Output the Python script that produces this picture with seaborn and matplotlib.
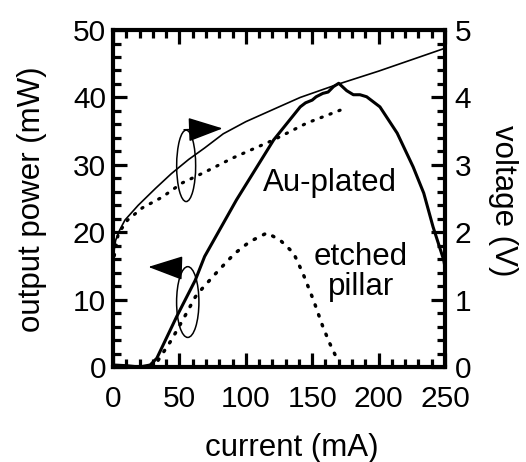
import numpy as np
import pandas as pd
import matplotlib
matplotlib.use("Agg")
import matplotlib.pyplot as plt
import seaborn as sns
from matplotlib.patches import Ellipse
from matplotlib.ticker import MultipleLocator

## DATA
# voltage curves (right axis, V)
current_v_au = [0, 2, 5, 9, 19, 32, 44, 57, 69, 83, 100, 125, 141, 170, 200, 225, 250]
volt_au = [1.62, 1.88, 2.03, 2.18, 2.40, 2.65, 2.87, 3.08, 3.25, 3.46, 3.64, 3.86, 4.0, 4.2, 4.39, 4.56, 4.73]
current_v_etched = [1, 4, 11, 22, 37, 52, 69, 90, 121, 146, 171]
volt_etched = [1.65, 1.98, 2.18, 2.36, 2.52, 2.73, 2.89, 3.10, 3.37, 3.62, 3.81]

# output power curves (left axis, mW)
current_p_au = [0, 10, 20, 28, 33, 48, 62, 69, 93, 121, 141, 145, 150, 153, 158, 162, 166, 170,
                176, 181, 186, 191, 201, 214, 226, 234, 241, 249, 250]
power_au = [0.3, 0.2, 0.0, 0.3, 1.3, 7.5, 12.9, 16.4, 24.8, 33.7, 38.6, 39.2, 39.6, 40.1, 40.6,
            40.8, 41.6, 42.1, 41.0, 40.4, 40.4, 40.1, 38.6, 34.7, 29.7, 25.8, 20.8, 15.9, 14.8]
current_p_etched = [34, 44, 54, 62, 67, 77, 87, 92, 103, 116, 126, 136, 143, 151, 158, 163, 168]
power_etched = [1.0, 4.0, 7.5, 10.4, 11.6, 13.8, 15.9, 16.9, 18.6, 19.9, 18.8, 16.9, 13.9, 9.9, 6.0, 3.6, 1.5]

xticks = [0, 50, 100, 150, 200, 250]

sns.set_style("ticks")
plt.rcParams['font.family'] = ['Liberation Sans', 'DejaVu Sans']
plt.rcParams.update({'text.color': 'black', 'axes.labelcolor': 'black',
                     'xtick.color': 'black', 'ytick.color': 'black',
                     'axes.edgecolor': 'black'})

fig = plt.figure(figsize=(5.26, 4.62), dpi=100)
ax = fig.add_axes([0.2148, 0.2056, 0.6312, 0.7294])
ax2 = ax.twinx()

dotted = (0, (0.4, 2.6))
sns.lineplot(x=current_p_au, y=power_au, ax=ax, color='black', lw=2.2, sort=False)
sns.lineplot(x=current_p_etched, y=power_etched, ax=ax, color='black', lw=2.5, linestyle=dotted,
             dash_capstyle='round', sort=False)
sns.lineplot(x=current_v_au, y=volt_au, ax=ax2, color='black', lw=1.2, sort=False)
sns.lineplot(x=current_v_etched, y=volt_etched, ax=ax2, color='black', lw=2.3, linestyle=dotted,
             dash_capstyle='round', sort=False)

ax.set_xlim(0, 250)
ax.set_ylim(0, 50)
ax2.set_ylim(0, 5)
ax.set_xticks(xticks)
ax.xaxis.set_minor_locator(MultipleLocator(10))
ax.yaxis.set_major_locator(MultipleLocator(10))
ax.yaxis.set_minor_locator(MultipleLocator(2))
ax2.yaxis.set_major_locator(MultipleLocator(1))
ax2.yaxis.set_minor_locator(MultipleLocator(0.2))

ax.tick_params(which='both', direction='in', top=True, bottom=True, left=True, right=False,
               width=2.3, labelsize=21.5, colors='black')
ax.tick_params(which='major', length=10)
ax.tick_params(which='minor', length=6)
ax.tick_params(axis='x', which='major', pad=13)
ax.tick_params(axis='y', which='major', pad=5)
ax2.tick_params(which='both', direction='in', right=True, left=False, width=2.3,
                labelsize=21.5, colors='black')
ax2.tick_params(which='major', length=10, pad=7)
ax2.tick_params(which='minor', length=6)

for s in ax.spines.values():
    s.set_linewidth(3)
    s.set_visible(True)
    s.set_color('black')
for s in ax2.spines.values():
    s.set_visible(False)

ax.set_xlabel('current (mA)', fontsize=22.5)
ax.set_ylabel('output power (mW)', fontsize=22.5)
ax2.set_ylabel('voltage (V)', fontsize=22.5, rotation=270)
ax.xaxis.set_label_coords(0.539, -0.24)
ax.xaxis.label.set_va('center')
ax.yaxis.set_label_coords(-0.244, 0.4985)
ax.yaxis.label.set_va('center')
ax2.yaxis.set_label_coords(1.175, 0.4926)
ax2.yaxis.label.set_va('center')

# annotations
ax.text(163, 27.3, 'Au-plated', fontsize=22.5, ha='center', va='center')
ax.text(186.7, 14.1, 'etched\npillar', fontsize=22.5, ha='center', va='center',
        multialignment='center', linespacing=1.0)

ax.add_patch(Ellipse((55.1, 29.85), 14.3, 10.6, fill=False, lw=1.1, color='black'))
ax.add_patch(Ellipse((56.3, 9.64), 16.8, 10.5, fill=False, lw=1.1, color='black'))
arrow = dict(arrowstyle='-|>,head_length=1.1,head_width=0.38', lw=1.1, color='black',
             mutation_scale=20, shrinkA=0, shrinkB=0)
ax.annotate('', xy=(82.6, 35.4), xytext=(53.5, 35.2), arrowprops=arrow)
ax.annotate('', xy=(26.6, 14.85), xytext=(50.3, 14.7), arrowprops=arrow)

fig.savefig('out.png', dpi=100)
